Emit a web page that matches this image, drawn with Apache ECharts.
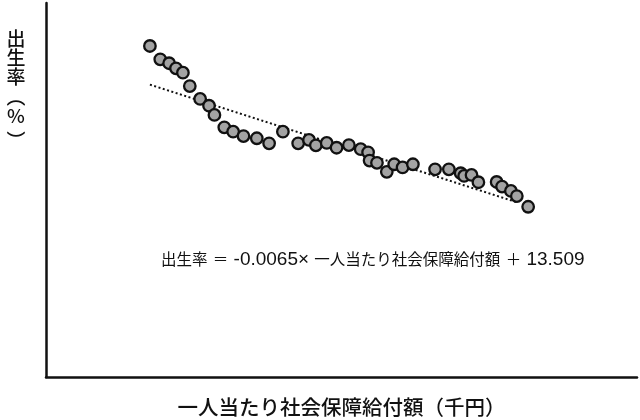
<!DOCTYPE html>
<html>
<head>
<meta charset="utf-8">
<script src="https://cdn.jsdelivr.net/npm/echarts@6/dist/echarts.min.js"></script>
<style>
html,body{margin:0;padding:0;background:#fff;}
#chart{width:640px;height:420px;}
</style>
</head>
<body>
<div id="chart"></div>
<script>
// 一人当たり社会保障給付額（千円）
var benefitPerCapita = [211, 232, 250, 264, 278, 292, 313, 331, 342, 362, 380, 401, 428, 453, 481, 512, 534, 548, 570, 590, 615, 639, 654, 657, 672, 692, 707, 724, 745, 790, 818, 842, 849, 864, 878, 915, 926, 944, 956, 979];
// 出生率
var birthRate = [13.73, 13.18, 13.02, 12.81, 12.63, 12.08, 11.55, 11.27, 10.89, 10.38, 10.20, 10.02, 9.93, 9.72, 10.20, 9.72, 9.86, 9.64, 9.74, 9.54, 9.65, 9.48, 9.35, 9.01, 8.92, 8.55, 8.86, 8.73, 8.86, 8.65, 8.65, 8.49, 8.38, 8.42, 8.12, 8.13, 7.94, 7.76, 7.55, 7.11];
// 回帰式
var trendSlope = -0.0065;
var trendIntercept = 13.509;
var trendRange = [211, 958];

var xAxisName = '一人当たり社会保障給付額（千円）';
var yAxisChars = ['出', '生', '率', '︵', '%', '︶'];

var points = benefitPerCapita.map(function (x, i) { return [x, birthRate[i]]; });
var trendData = trendRange.map(function (x) { return [x, trendSlope * x + trendIntercept]; });

var yLabelY = [39, 58, 77, 97, 116, 141];
var yLabelEls = yAxisChars.map(function (ch, i) {
  return {
    type: 'text', x: 16, y: yLabelY[i],
    style: {
      text: ch, fontFamily: 'Noto Sans CJK JP', fontSize: 19, fontWeight: 500,
      fill: '#111', align: 'center', verticalAlign: 'middle'
    }
  };
});

var chart = echarts.init(document.getElementById('chart'));
chart.setOption({
  animation: false,
  backgroundColor: '#fff',
  grid: { left: 46, right: 3, top: 3, bottom: 43, containLabel: false, outerBoundsMode: 'none' },
  xAxis: {
    type: 'value', min: 0, max: 1200,
    name: xAxisName, nameLocation: 'middle', nameGap: 20,
    nameTextStyle: { fontFamily: 'Noto Sans CJK JP', fontSize: 20.5, fontWeight: 500, color: '#111' },
    axisLine: { show: true, onZero: false, lineStyle: { color: '#111', width: 2.5 } },
    axisTick: { show: false }, axisLabel: { show: false }, splitLine: { show: false }
  },
  yAxis: {
    type: 'value', min: 0.1, max: 15.5,
    axisLine: { show: true, onZero: false, lineStyle: { color: '#111', width: 2.5 } },
    axisTick: { show: false }, axisLabel: { show: false }, splitLine: { show: false }
  },
  graphic: yLabelEls.concat([
    {
      type: 'text', left: 161, top: 250,
      style: {
        text: '{c|出生率}{n| }{c|＝}{n| -0.0065× }{c|一人当たり社会保障給付額}{n| }{c|＋}{n| 13.509}',
        rich: {
          c: { fontFamily: 'Noto Sans CJK JP', fontSize: 15.5, fill: '#111' },
          n: { fontFamily: 'Liberation Sans', fontSize: 19, fill: '#111' }
        }
      }
    }
  ]),
  series: [
    {
      type: 'line', data: trendData, symbol: 'none', z: 1,
      lineStyle: { color: '#111', width: 2, type: [2, 2.5] }
    },
    {
      type: 'scatter', data: points, symbol: 'circle', symbolSize: 11.5, z: 2,
      itemStyle: { color: '#a3a3a3', borderColor: '#111', borderWidth: 2.3, opacity: 1 }
    }
  ]
});
</script>
</body>
</html>
